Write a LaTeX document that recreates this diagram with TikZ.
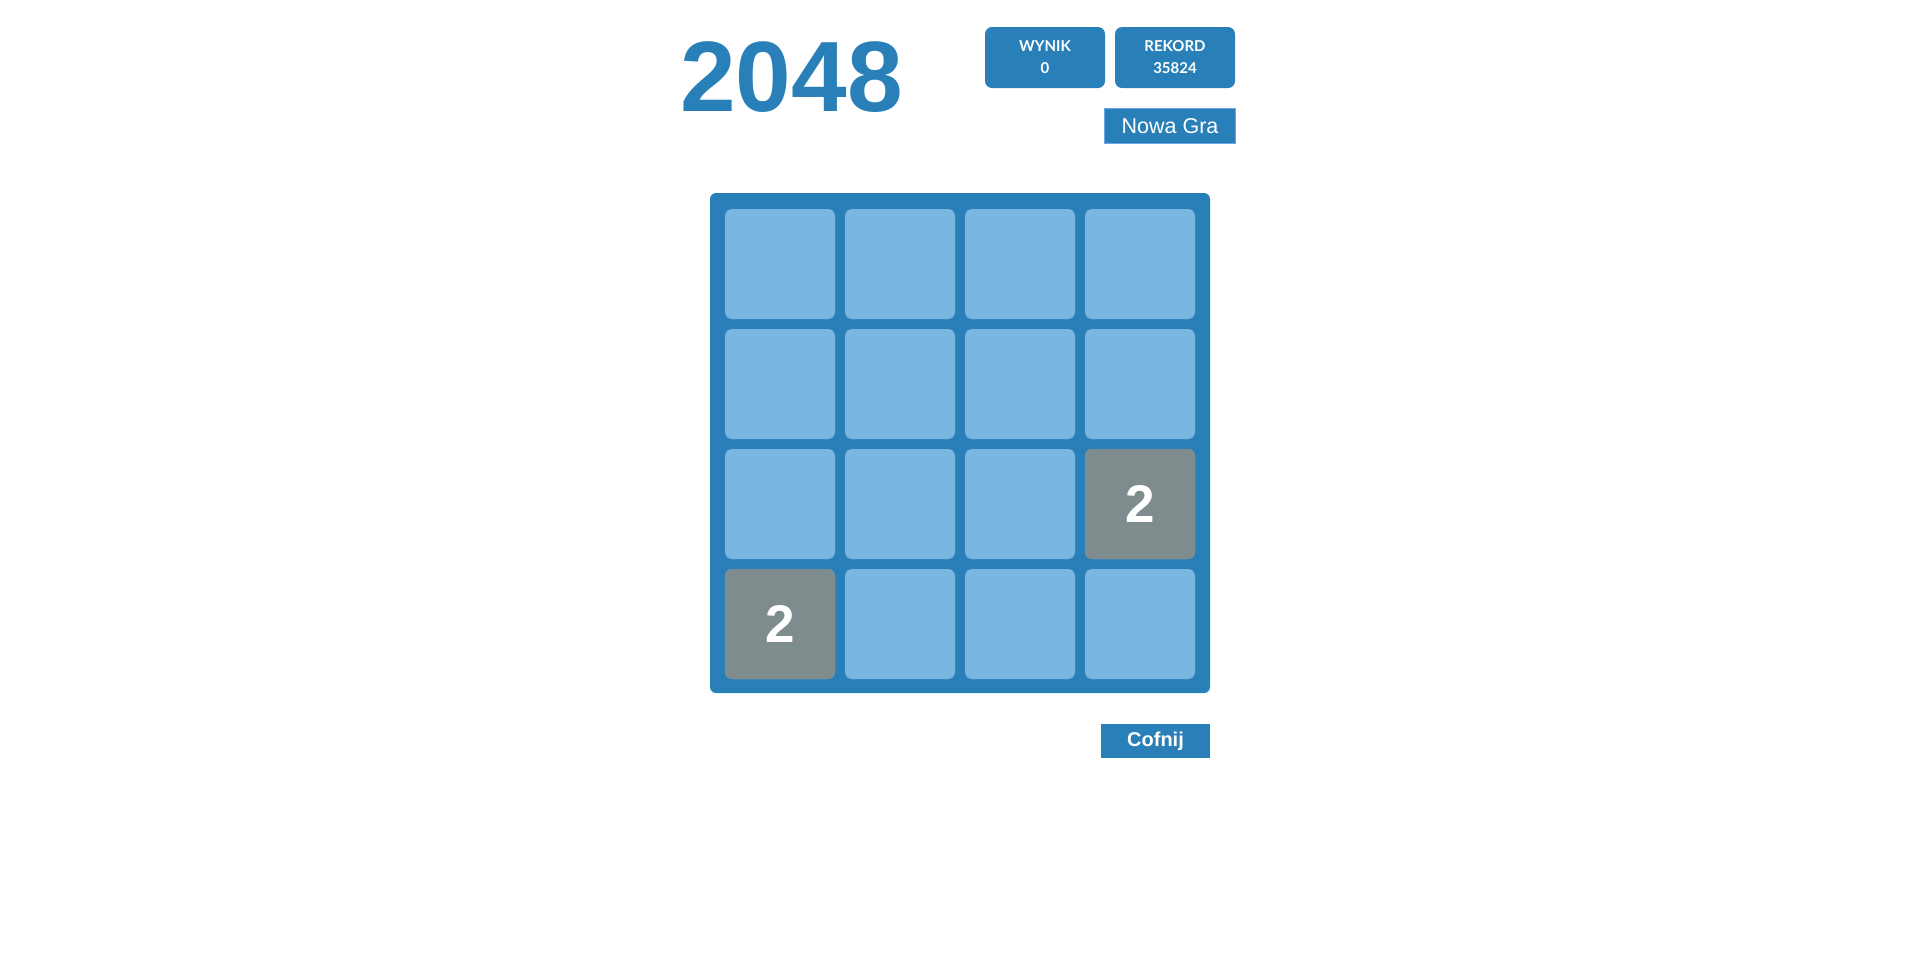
\documentclass[tikz,border=0pt]{standalone}
\usepackage{fontspec}
\setmainfont{Liberation Sans}
\newfontfamily\latofont{Lato}
\definecolor{boardblue}{HTML}{2980B9}
\definecolor{cellblue}{HTML}{79B6E1}
\definecolor{tilegray}{HTML}{7F8C8D}
\definecolor{btnborder}{HTML}{6FA5EC}
\begin{document}
\begin{tikzpicture}[x=1pt,y=-1pt,
        scorebox/.style={fill=boardblue,rounded corners=7pt,minimum width=120pt,
            minimum height=61pt,inner sep=0pt,text=white,align=center,
            font=\latofont\bfseries\fontsize{15}{22}\selectfont},
        button/.style={fill=boardblue,text=white,inner sep=0pt},
        cell/.style={fill=cellblue,rounded corners=7pt,minimum size=110pt,inner sep=0pt},
        tile/.style={cell,fill=tilegray,text=white,font=\bfseries\fontsize{53}{53}\selectfont}]
    \useasboundingbox (0,0) rectangle (1920,962);
	\node[text=boardblue,font=\bfseries\fontsize{100}{100}\selectfont] (title) at (791.5,77.5) {2048};
	\node[scorebox] (score) at (1045,57.5) {WYNIK\\0};
	\node[scorebox] (best) at (1175,57.5) {REKORD\\35824};
	\node[button,draw=btnborder,line width=1pt,minimum width=131pt,minimum height=35pt,
        font=\fontsize{21.5}{21.5}\selectfont] (newgame) at (1170,126) {Nowa Gra};

\node[fill=boardblue,rounded corners=6pt,minimum size=500pt,inner sep=0pt] (board) at (960,443) {};
\foreach \r in {0,...,3}
    \foreach \c in {0,...,3}
        \node[cell] (c\r\c) at (780+120*\c,264+120*\r) {};
\node[tile] (t23) at (c23) {2};
\node[tile] (t30) at (c30) {2};

\node[button,minimum width=109pt,minimum height=34pt,
    font=\bfseries\fontsize{20}{20}\selectfont] (undo) at (1155.5,741) {Cofnij};
\end{tikzpicture}
\end{document}
